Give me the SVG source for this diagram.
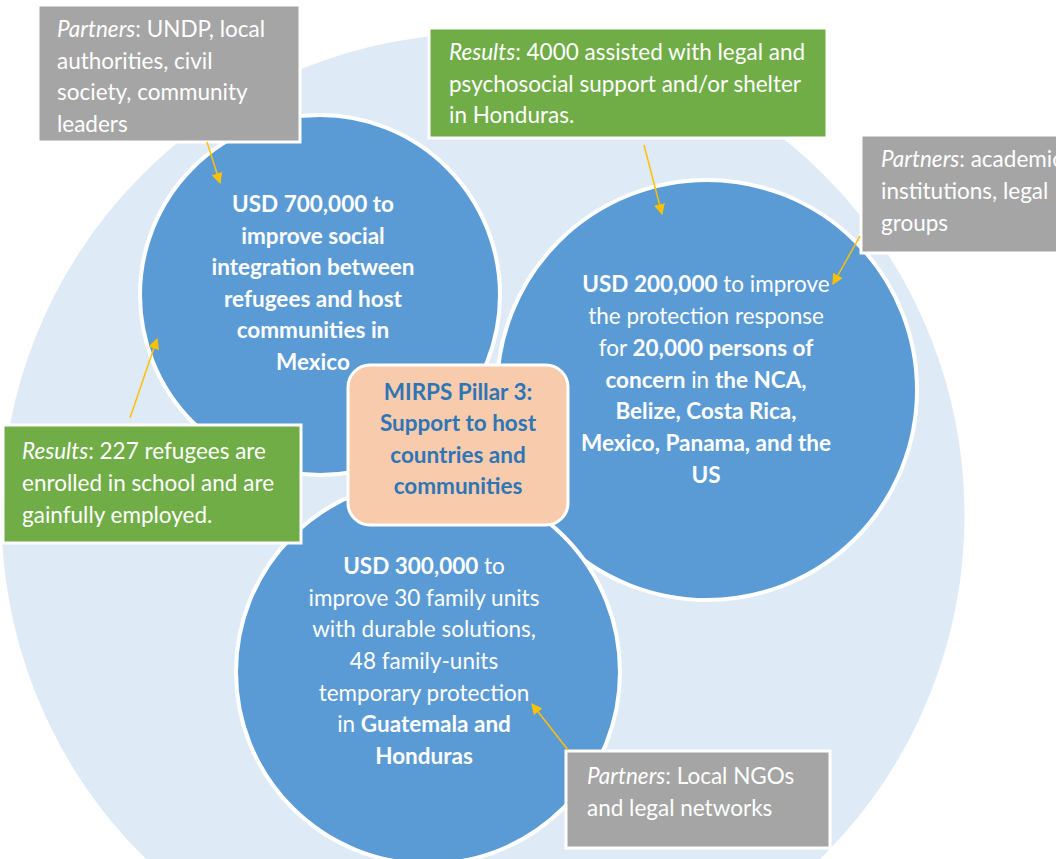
<svg xmlns="http://www.w3.org/2000/svg" width="1056" height="859" viewBox="0 0 1056 859">
<style>
.t{font-family:Lato,"Open Sans","Liberation Sans",sans-serif;font-size:22.5px;fill:#fff}
.c{text-anchor:middle}
.b{font-weight:bold}
.i{font-style:italic}
.circ{fill:#5B9BD5;stroke:#fff;stroke-width:4}
.gray{fill:#A5A5A5;stroke:#fff;stroke-width:3}
.green{fill:#70AD47;stroke:#fff;stroke-width:3}
.arr{stroke:#FFC000;stroke-width:1.5;fill:none;marker-end:url(#ah)}
</style>
<defs>
<marker id="ah" viewBox="0 0 10 10" refX="9" refY="5" markerWidth="11" markerHeight="11" markerUnits="userSpaceOnUse" orient="auto">
<path d="M0,0 L10,5 L0,10 z" fill="#FFC000"/>
</marker>
</defs>
<rect width="1056" height="859" fill="#fff"/>
<g id="background">
<circle cx="483" cy="515" r="483" fill="#DEEAF6" stroke="#fff" stroke-width="3"/>
</g>
<g id="circle-mexico">
<circle class="circ" cx="320" cy="295" r="180"/>
<text class="t c b"><tspan x="313" y="212">USD 700,000 to</tspan><tspan x="313" y="244">improve social</tspan><tspan x="313" y="275">integration between</tspan><tspan x="313" y="307">refugees and host</tspan><tspan x="313" y="338">communities in</tspan><tspan x="313" y="370">Mexico</tspan></text>
</g>
<g id="circle-nca">
<circle class="circ" cx="707" cy="390" r="210"/>
<text class="t c"><tspan x="706" y="292"><tspan class="b">USD 200,000</tspan> to improve</tspan><tspan x="706" y="324">the protection response</tspan><tspan x="706" y="356">for <tspan class="b">20,000 persons of</tspan></tspan><tspan x="706" y="388"><tspan class="b">concern</tspan> in <tspan class="b">the NCA,</tspan></tspan><tspan x="706" y="419" class="b">Belize, Costa Rica,</tspan><tspan x="706" y="451" class="b">Mexico, Panama, and the</tspan><tspan x="706" y="483" class="b">US</tspan></text>
</g>
<g id="circle-guatemala">
<circle class="circ" cx="428" cy="672" r="192"/>
<text class="t c"><tspan x="424" y="574"><tspan class="b">USD 300,000</tspan> to</tspan><tspan x="424" y="606">improve 30 family units</tspan><tspan x="424" y="637">with durable solutions,</tspan><tspan x="424" y="669">48 family-units</tspan><tspan x="424" y="701">temporary protection</tspan><tspan x="424" y="732">in <tspan class="b">Guatemala and</tspan></tspan><tspan x="424" y="764" class="b">Honduras</tspan></text>
</g>
<g id="center">
<rect x="348" y="365" width="220" height="160" rx="22" fill="#F8CBAD" stroke="#fff" stroke-width="3"/>
<text class="t c b" style="fill:#2E75B6"><tspan x="458" y="400">MIRPS Pillar 3:</tspan><tspan x="458" y="431">Support to host</tspan><tspan x="458" y="463">countries and</tspan><tspan x="458" y="494">communities</tspan></text>
</g>
<g id="partners-tl">
<rect class="gray" x="38" y="5" width="262" height="137"/>
<text class="t"><tspan x="57" y="37"><tspan class="i">Partners</tspan>: UNDP, local</tspan><tspan x="57" y="69">authorities, civil</tspan><tspan x="57" y="100">society, community</tspan><tspan x="57" y="132">leaders</tspan></text>
</g>
<g id="results-top">
<rect class="green" x="429" y="28" width="398" height="110"/>
<text class="t"><tspan x="449" y="60"><tspan class="i">Results</tspan>: 4000 assisted with legal and</tspan><tspan x="449" y="92">psychosocial support and/or shelter</tspan><tspan x="449" y="123">in Honduras.</tspan></text>
</g>
<g id="partners-right">
<rect class="gray" x="861" y="135" width="200" height="118"/>
<text class="t"><tspan x="881" y="167"><tspan class="i">Partners</tspan>: academic</tspan><tspan x="881" y="199">institutions, legal</tspan><tspan x="881" y="231">groups</tspan></text>
</g>
<g id="results-left">
<rect class="green" x="3" y="425" width="298" height="118"/>
<text class="t"><tspan x="22" y="459"><tspan class="i">Results</tspan>: 227 refugees are</tspan><tspan x="22" y="491">enrolled in school and are</tspan><tspan x="22" y="523">gainfully employed.</tspan></text>
</g>
<g id="partners-bottom">
<rect class="gray" x="566" y="751" width="264" height="97"/>
<text class="t"><tspan x="587" y="784"><tspan class="i">Partners</tspan>: Local NGOs</tspan><tspan x="587" y="816">and legal networks</tspan></text>
</g>
<g id="connectors">
<line class="arr" x1="207" y1="142" x2="220" y2="183"/>
<line class="arr" x1="644" y1="145" x2="662" y2="214"/>
<line class="arr" x1="860" y1="236" x2="833" y2="284"/>
<line class="arr" x1="130" y1="418" x2="157" y2="339"/>
<line class="arr" x1="568" y1="750" x2="532" y2="704"/>
</g>
</svg>
